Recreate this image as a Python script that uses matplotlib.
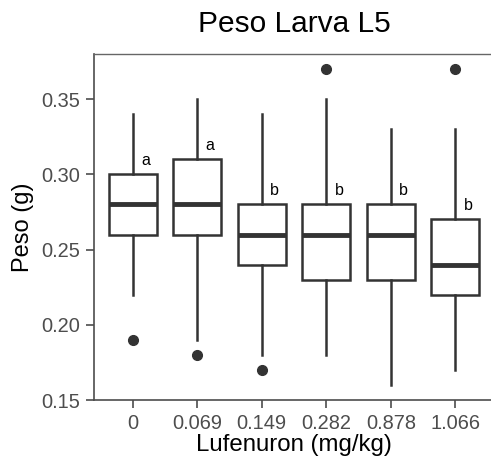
import numpy as np
import matplotlib
matplotlib.use('Agg')
import matplotlib.pyplot as plt

plt.rcParams['font.family'] = ['Liberation Sans', 'DejaVu Sans']

doses = ['0', '0.069', '0.149', '0.282', '0.878', '1.066']
whisk_lo = [0.22, 0.19, 0.18, 0.18, 0.16, 0.17]
q1 = [0.26, 0.26, 0.24, 0.23, 0.23, 0.22]
median = [0.28, 0.28, 0.26, 0.26, 0.26, 0.24]
q3 = [0.30, 0.31, 0.28, 0.28, 0.28, 0.27]
whisk_hi = [0.34, 0.35, 0.34, 0.35, 0.33, 0.33]
outliers = [[0.19], [0.18], [0.17], [0.37], [], [0.37]]
letters = ['a', 'a', 'b', 'b', 'b', 'b']

dark = '#333333'
grey = '#4D4D4D'

stats = []
for i in range(len(doses)):
    stats.append({'whislo': whisk_lo[i], 'q1': q1[i], 'med': median[i],
                  'q3': q3[i], 'whishi': whisk_hi[i], 'fliers': outliers[i]})

fig = plt.figure(figsize=(4.91, 4.57), dpi=100)
ax = fig.add_axes([94 / 491, 1 - 400 / 457, 400 / 491, 346 / 457])

pos = np.arange(1, len(doses) + 1)
ax.bxp(stats, positions=pos, widths=0.75, showcaps=False, patch_artist=True,
       boxprops=dict(facecolor='white', edgecolor=dark, linewidth=1.8),
       medianprops=dict(color=dark, linewidth=3.5),
       whiskerprops=dict(color=dark, linewidth=1.8),
       flierprops=dict(marker='o', markerfacecolor=dark, markeredgecolor=dark,
                       markersize=7))

# significance letters just above each box
for i in range(len(doses)):
    ax.text(pos[i] + 0.2, q3[i] + 0.004, letters[i], fontsize=11.5,
            color='black', ha='center', va='bottom')

ax.set_xlim(0.4, 6.6)
ax.set_ylim(0.15, 0.38)
ax.set_xticks(pos)
ax.set_xticklabels(doses)
ax.set_yticks([0.15, 0.20, 0.25, 0.30, 0.35])
ax.set_yticklabels(['0.15', '0.20', '0.25', '0.30', '0.35'])
ax.tick_params(axis='both', labelsize=14.4, colors=grey, length=6, width=1.2,
               labelcolor=grey, pad=4)

for s in ['left', 'bottom']:
    ax.spines[s].set_color(grey)
    ax.spines[s].set_linewidth(1.2)
ax.spines['top'].set_color('#666666')
ax.spines['top'].set_linewidth(1.0)
ax.spines['right'].set_visible(False)

ax.set_xlabel('Lufenuron (mg/kg)', fontsize=17.3, color='black', labelpad=1)
ax.set_ylabel('Peso (g)', fontsize=17, color='black', labelpad=5)
ax.set_title('Peso Larva L5', fontsize=21.5, color='black', pad=16)

fig.savefig('out.png', dpi=100)
